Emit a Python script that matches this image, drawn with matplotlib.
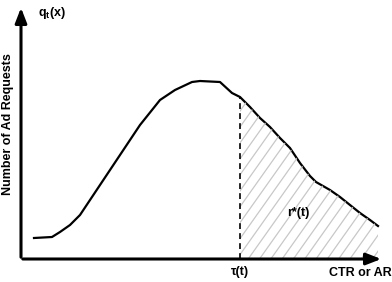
import numpy as np
import matplotlib.pyplot as plt

# curve (x: CTR or AR, y: number of ad requests), arbitrary units
ctr = [13, 31, 39, 49, 59, 69, 79, 99, 119, 139, 154, 171, 179, 199, 211, 219,
       229, 239, 249, 259, 269, 279, 289, 295, 309, 319, 329, 339, 349, 357]
requests = [21, 22, 27, 34, 44, 59, 74, 104, 134, 159, 169, 177, 178, 177, 166,
            162, 152, 141, 132, 121, 111, 96, 83, 77, 69, 62, 54, 46, 39, 33]
tau = 219

fig = plt.figure(figsize=(3.92, 2.82), dpi=100)
ax = fig.add_axes([21/392, 23/282, 363/392, 254/282])
ax.set_xlim(0, 363)
ax.set_ylim(0, 254)
ax.axis('off')

# axes with arrows
ax.annotate('', xy=(363, 0), xytext=(-1, 0),
            arrowprops=dict(arrowstyle='-|>,head_length=0.9,head_width=0.35', color='black', lw=2.2),
            annotation_clip=False)
ax.annotate('', xy=(0, 254), xytext=(0, -1),
            arrowprops=dict(arrowstyle='-|>,head_length=0.9,head_width=0.35', color='black', lw=2.2),
            annotation_clip=False)

ax.plot(ctr, requests, color='black', lw=1.6, solid_joinstyle='round')

# hatched region right of tau
xs = np.array(ctr, dtype=float)
ys = np.array(requests, dtype=float)
xr = np.concatenate([[tau], xs[xs > tau]])
yr = np.concatenate([[np.interp(tau, xs, ys)], ys[xs > tau]])
poly = ax.fill_between(xr, 0, yr, facecolor='none', edgecolor='none')
clip = poly.get_paths()[0]
for x0 in np.arange(tau - 150, 400, 11.3):
    ln, = ax.plot([x0, x0 + 170], [0, 240], color='#c8c8c8', lw=0.9)
    ln.set_clip_path(clip, ax.transData)

ax.plot([tau, tau], [0, np.interp(tau, xs, ys)], color='black', lw=1.2, ls=(0, (3.5, 2.5)))

fs = 9
fig.text(38/392, 1 - 13/282, r'q$_\mathregular{t}$(x)', fontsize=fs, fontweight='bold',
         family='Liberation Sans', va='center', ha='left')
fig.text(8/392, 1 - 124/282, 'Number of Ad Requests', fontsize=fs, fontweight='bold',
         family='Liberation Sans', rotation=90, va='center', ha='center')
fig.text(240/392, 1 - 272/282, 'τ(t)', fontsize=fs, fontweight='bold',
         family='Liberation Sans', va='center', ha='center')
fig.text(392/392, 1 - 273/282, 'CTR or AR', fontsize=fs, fontweight='bold',
         family='Liberation Sans', va='center', ha='right')
fig.text(298/392, 1 - 213/282, 'r*(t)', fontsize=fs, fontweight='bold',
         family='Liberation Sans', va='center', ha='center')

fig.savefig('out.png', dpi=100)
